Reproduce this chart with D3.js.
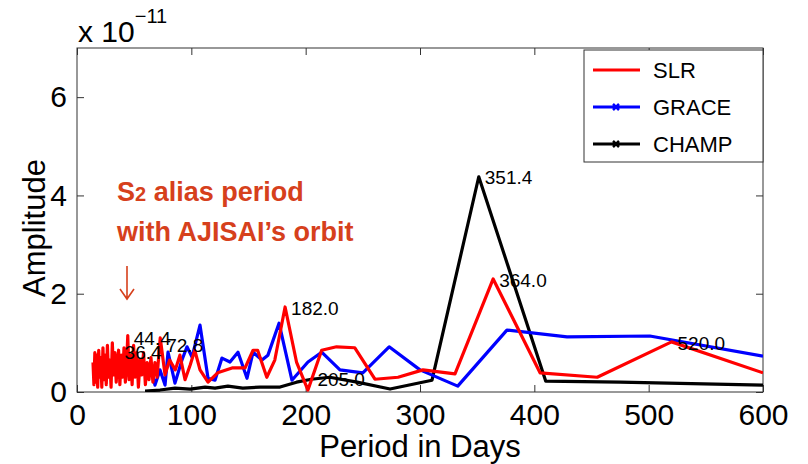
<!DOCTYPE html>
<html>
<head>
<meta charset="utf-8">
<script src="https://cdn.jsdelivr.net/npm/d3@7"></script>
<style>
  body { margin: 0; background: #fff; }
  text { font-family: "Liberation Sans", Arial, sans-serif; }
</style>
</head>
<body>
<div id="chart"></div>
<script>

// period in days / amplitude (x 1e-11)
var slrPeriod = [14.0, 14.8, 15.6, 16.4, 17.3, 18.1, 19.0, 19.9, 20.8, 21.7, 22.7, 23.6, 24.6, 25.6, 26.6, 27.6,
  28.7, 29.8, 30.9, 32.0, 33.1, 34.3, 35.4, 36.4, 37.5, 38.7, 39.9, 41.1, 42.3, 43.4, 44.4, 45.6, 46.9, 48.2,
  49.5, 50.9, 52.3, 53.7, 55.2, 56.7, 58.2, 59.8, 61.4, 63.0, 64.7, 66.4, 68.2, 70.0, 72.8, 77, 81, 86, 90,
  94.5, 99, 103, 107.6, 114.6, 123, 135.6, 147, 154, 158, 166, 173, 182, 192, 202, 214, 227, 243, 260.6,
  280.8, 302.6, 330.6, 364, 405, 455, 520, 600];
var slrAmp = [0.6, 0.15, 0.8, 0.2, 0.75, 0.1, 0.85, 0.3, 0.7, 0.1, 0.9, 0.25, 0.75, 0.15, 0.95, 0.3,
  0.65, 0.1, 1.0, 0.35, 0.8, 0.2, 0.65, 0.85, 0.15, 0.75, 0.3, 0.9, 0.2, 0.55, 1.15, 0.25, 0.75, 0.15,
  0.95, 0.3, 0.8, 0.1, 0.65, 0.35, 0.8, 0.15, 0.6, 0.25, 0.7, 0.2, 0.6, 0.3, 1.1, 0.35, 0.65, 0.45, 0.75,
  0.25, 0.55, 0.85, 0.45, 0.2, 0.39, 0.49, 0.49, 0.85, 0.85, 0.3, 0.65, 1.73, 0.61, 0.04, 0.85, 0.92, 0.9, 0.26,
  0.3, 0.45, 0.37, 2.3, 0.39, 0.3, 1.02, 0.39];

var gracePeriod = [59.5, 63.8, 68.2, 72.6, 77, 79.6, 85.7, 91.8, 96.2, 100.6, 107.6, 114.6, 120.7, 126.8,
  133.8, 140.8, 148.7, 154, 161.8, 167, 176.7, 188, 202, 214, 230, 250, 273, 300, 333, 376, 428.6, 501, 600];
var graceAmp = [0.35, 0.55, 0.14, 0.45, 0.14, 0.81, 0.18, 0.65, 0.92, 0.71, 1.36, 0.28, 0.24, 0.69,
  0.61, 0.81, 0.28, 0.81, 0.65, 0.75, 1.4, 0.24, 0.61, 0.81, 0.45, 0.39, 0.92, 0.45, 0.12, 1.26, 1.12, 1.14, 0.73];

var champPeriod = [59.5, 72.6, 85.7, 99, 112, 120.7, 132, 145, 160, 177.6, 192, 205, 221, 245, 273.8,
  310.5, 351.4, 410, 475, 600];
var champAmp = [0.02, 0.04, 0.08, 0.06, 0.1, 0.08, 0.12, 0.08, 0.1, 0.1, 0.2, 0.26, 0.3, 0.2, 0.06,
  0.24, 4.38, 0.22, 0.2, 0.14];

var peakText = ["36.4", "44.4", "72.8", "182.0", "205.0", "351.4", "364.0", "520.0"];
var peakPeriod = [36.4, 44.4, 72.8, 182.0, 205.0, 351.4, 364.0, 520.0];
var peakAmp = [0.81, 1.1, 0.95, 1.71, 0.26, 4.37, 2.28, 1.0];

var xTicks = [0, 100, 200, 300, 400, 500, 600];
var yTicks = [0, 2, 4, 6];

var seriesNames = ["SLR", "GRACE", "CHAMP"];
var seriesColors = ["#ff0000", "#0000ff", "#000000"];

var margin, width, height, svg, plot, xScale, yScale, line;

margin = {top: 48, right: 45, bottom: 72, left: 77};
width = 763 - margin.left;
height = 392 - margin.top;

svg = d3.select("#chart").append("svg")
  .attr("width", 808)
  .attr("height", 464);

plot = svg.append("g")
  .attr("transform", "translate(" + margin.left + "," + margin.top + ")");

xScale = d3.scaleLinear().domain([0, 600]).range([0, width]);
yScale = d3.scaleLinear().domain([0, 7]).range([height, 0]);

plot.append("clipPath")
  .attr("id", "clip")
  .append("rect")
  .attr("width", width)
  .attr("height", height);

// axes: matlab style, ticks pointing inwards on all four sides
plot.append("g")
  .attr("transform", "translate(0," + height + ")")
  .call(d3.axisBottom(xScale).tickValues(xTicks).tickSize(-7).tickPadding(12).tickFormat(d3.format("d")))
  .call(function(g){ g.select(".domain").remove(); })
  .selectAll("text")
  .attr("font-size", 30)
  .attr("fill", "#000");

plot.append("g")
  .call(d3.axisTop(xScale).tickValues(xTicks).tickSize(-7).tickFormat(""))
  .call(function(g){ g.select(".domain").remove(); });

plot.append("g")
  .call(d3.axisLeft(yScale).tickValues(yTicks).tickSize(-7).tickPadding(10).tickFormat(d3.format("d")))
  .call(function(g){ g.select(".domain").remove(); })
  .selectAll("text")
  .attr("font-size", 30)
  .attr("fill", "#000");

plot.append("g")
  .attr("transform", "translate(" + width + ",0)")
  .call(d3.axisRight(yScale).tickValues(yTicks).tickSize(-7).tickFormat(""))
  .call(function(g){ g.select(".domain").remove(); });

plot.selectAll(".tick line").attr("stroke", "#333");

plot.append("rect")
  .attr("width", width)
  .attr("height", height)
  .attr("fill", "none")
  .attr("stroke", "#333")
  .attr("stroke-width", 1);

line = d3.line()
  .x(function(d){ return xScale(d[0]); })
  .y(function(d){ return yScale(d[1]); });

var series = [
  d3.zip(slrPeriod, slrAmp),
  d3.zip(gracePeriod, graceAmp),
  d3.zip(champPeriod, champAmp)
];

// draw in reverse so SLR ends up on top where it overlaps
var lines = plot.append("g").attr("clip-path", "url(#clip)");
[2, 1, 0].forEach(function(i){
  lines.append("path")
    .attr("d", line(series[i]))
    .attr("fill", "none")
    .attr("stroke", seriesColors[i])
    .attr("stroke-width", 3.2)
    .attr("stroke-linejoin", "round");
});

// peak period labels
plot.selectAll(".peak")
  .data(d3.range(peakText.length))
  .enter().append("text")
  .attr("class", "peak")
  .attr("x", function(i){ return xScale(peakPeriod[i]) + 6; })
  .attr("y", function(i){ return yScale(peakAmp[i]); })
  .attr("dy", "0.35em")
  .attr("font-size", 19)
  .attr("fill", "#000")
  .text(function(i){ return peakText[i]; });

// legend
var legend = plot.append("g")
  .attr("transform", "translate(" + (width - 179) + ",2)");

legend.append("rect")
  .attr("width", 179)
  .attr("height", 112)
  .attr("fill", "#fff")
  .attr("stroke", "#333");

seriesNames.forEach(function(name, i){
  var ly = 20 + i * 37;
  legend.append("line")
    .attr("x1", 9).attr("x2", 56)
    .attr("y1", ly).attr("y2", ly)
    .attr("stroke", seriesColors[i])
    .attr("stroke-width", 3);
  if (i > 0) {
    legend.append("path")
      .attr("d", "M29,"+(ly-3)+"L35,"+(ly+3)+"M29,"+(ly+3)+"L35,"+(ly-3))
      .attr("stroke", seriesColors[i])
      .attr("stroke-width", 2.5);
  }
  legend.append("text")
    .attr("x", 69)
    .attr("y", ly)
    .attr("dy", "0.36em")
    .attr("font-size", 22)
    .attr("fill", "#000")
    .text(name);
});

// exponent above the y axis
var expo = svg.append("text")
  .attr("x", 78)
  .attr("y", 42)
  .attr("font-size", 30)
  .attr("fill", "#000");
expo.append("tspan").text("x 10");
expo.append("tspan")
  .attr("dy", -19)
  .attr("font-size", 20)
  .text("\u221211");

// axis titles
svg.append("text")
  .attr("x", 420)
  .attr("y", 457)
  .attr("text-anchor", "middle")
  .attr("font-size", 31)
  .attr("fill", "#000")
  .text("Period in Days");

svg.append("text")
  .attr("transform", "translate(45,228) rotate(-90)")
  .attr("text-anchor", "middle")
  .attr("font-size", 31)
  .attr("fill", "#000")
  .text("Amplitude");

// annotation
var note = svg.append("text")
  .attr("x", 117)
  .attr("font-size", 27)
  .attr("font-weight", "bold")
  .attr("fill", "#d6401c");
var first = note.append("tspan").attr("x", 117).attr("y", 201);
first.append("tspan").text("S");
first.append("tspan").attr("font-size", 20).text("2");
first.append("tspan").text(" alias period");
note.append("tspan").attr("x", 117).attr("y", 241).text("with AJISAI\u2019s orbit");

// thin arrow pointing down at the aliased peaks
svg.append("path")
  .attr("d", "M127,266L127,298M120,289L127,299L134,289")
  .attr("fill", "none")
  .attr("stroke", "#d6401c")
  .attr("stroke-width", 1.6);

</script>
</body>
</html>
